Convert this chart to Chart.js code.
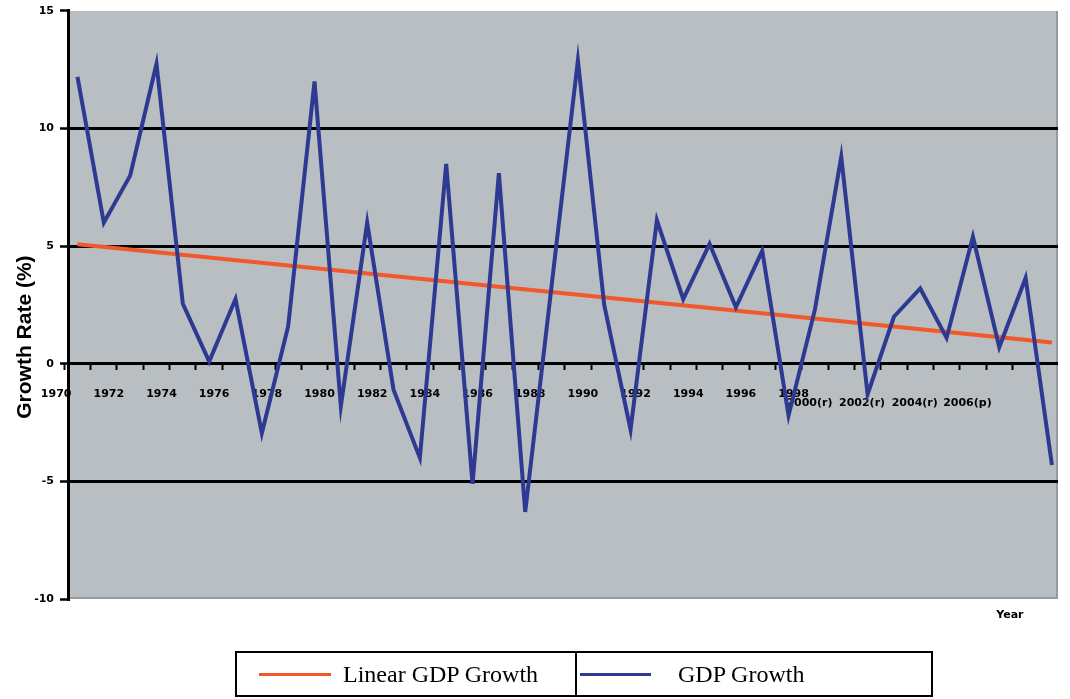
<!DOCTYPE html>
<html>
<head>
<meta charset="utf-8">
<script src="https://cdn.jsdelivr.net/npm/chart.js@4.4.1/dist/chart.umd.min.js"></script>
<style>
  html, body { margin: 0; padding: 0; background: #ffffff; overflow: hidden; }
  #wrap { position: relative; width: 1070px; height: 699px; }
  #legend { position: absolute; left: 235px; top: 651px; width: 698px; height: 46px;
            border: 2px solid #000; box-sizing: border-box; display: flex;
            font-family: 'Liberation Serif', 'Times New Roman', serif; font-size: 24px; color: #000; }
  .cell { display: flex; align-items: center; height: 100%; box-sizing: border-box; }
  .cell.left { width: 340px; border-right: 2px solid #000; }
  .cell.right { flex: 1; }
  .sw { height: 3px; }
</style>
</head>
<body>
<div id="wrap">
  <canvas id="c" width="1070" height="699"></canvas>
  <div id="legend"></div>
</div>
<script>
// ---- data ----
const years = [1971, 1972, 1973, 1974, 1975, 1976, 1977, 1978, 1979, 1980,
               1981, 1982, 1983, 1984, 1985, 1986, 1987, 1988, 1989, 1990,
               1991, 1992, 1993, 1994, 1995, 1996, 1997, 1998, 1999, 2000,
               2001, 2002, 2003, 2004, 2005, 2006, 2007, 2008];
const gdpGrowth = [12.2, 6.0, 8.0, 12.75, 2.55, 0.1, 2.75, -2.95, 1.6, 12.0,
                   -1.8, 6.0, -1.1, -4.0, 8.5, -5.1, 8.1, -6.3, 3.3, 12.9,
                   2.5, -2.8, 6.1, 2.75, 5.1, 2.4, 4.8, -2.2, 2.3, 8.8,
                   -1.3, 2.0, 3.2, 1.1, 5.4, 0.7, 3.65, -4.3];
const trendYears = [1971, 2008];
const trendValues = [5.08, 0.90];
const xTickLabels = ['1970', '1972', '1974', '1976', '1978', '1980', '1982', '1984',
                     '1986', '1988', '1990', '1992', '1994', '1996', '1998',
                     '2000(r)', '2002(r)', '2004(r)', '2006(p)'];
const seriesNames = ['Linear GDP Growth', 'GDP Growth'];
const yAxisTitle = 'Growth Rate (%)';
const xAxisTitle = 'Year';

const BLUE = '#2e3a92';
const ORANGE = '#f2582a';
const NBSP = '\u00a0';

const gdpPoints = years.map((yr, i) => ({ x: yr, y: gdpGrowth[i] }));
const trendPoints = trendYears.map((yr, i) => ({ x: yr, y: trendValues[i] }));

const bgPlugin = {
  id: 'plotBg',
  beforeDraw(chart) {
    const { ctx, chartArea: a } = chart;
    ctx.save();
    ctx.fillStyle = '#b8bec2';
    ctx.fillRect(a.left, a.top, a.right - a.left, a.bottom - a.top);
    ctx.strokeStyle = '#969b9f';
    ctx.lineWidth = 2;
    ctx.beginPath();
    ctx.moveTo(a.right - 1, a.top);
    ctx.lineTo(a.right - 1, a.bottom - 1);
    ctx.lineTo(a.left, a.bottom - 1);
    ctx.stroke();
    ctx.restore();
  }
};

const tickFont = { family: "'DejaVu Sans', sans-serif", size: 11, weight: 'bold', lineHeight: 0.9 };

new Chart(document.getElementById('c'), {
  type: 'line',
  data: {
    datasets: [
      { label: seriesNames[0], data: trendPoints, borderColor: ORANGE, backgroundColor: ORANGE,
        borderWidth: 4, pointRadius: 0, tension: 0, order: 2 },
      { label: seriesNames[1], data: gdpPoints, borderColor: BLUE, backgroundColor: BLUE,
        borderWidth: 4, pointRadius: 0, tension: 0, order: 1 }
    ]
  },
  options: {
    responsive: false,
    devicePixelRatio: 1,
    animation: false,
    layout: { padding: { left: 0, top: 10, right: 12, bottom: 70 } },
    plugins: { legend: { display: false }, tooltip: { enabled: false } },
    scales: {
      x: {
        type: 'linear',
        position: { y: 0 },
        min: 1970.64,
        max: 2008.23,
        afterBuildTicks: (scale) => {
          const t = [];
          for (let y = 1970; y < 2008; y++) t.push({ value: y + 0.5, mark: true });
          xTickLabels.forEach((l) => {
            const yr = parseInt(l, 10);
            const revised = l.indexOf('(') >= 0;
            t.push({ value: revised ? yr - 1.4 : yr, text: revised ? ['', l] : l });
          });
          t.sort((a, b) => a.value - b.value);
          scale.ticks = t;
        },
        ticks: {
          autoSkip: false, maxRotation: 0, minRotation: 0,
          padding: 19, labelOffset: 5, color: '#000', font: tickFont,
          callback: (v, i, ticks) => (ticks[i] && ticks[i].text) ? ticks[i].text : ''
        },
        grid: {
          drawOnChartArea: false, drawTicks: true, tickLength: 6,
          tickWidth: 2,
          tickColor: (ctx) => (ctx.tick && ctx.tick.mark) ? '#000' : 'rgba(0,0,0,0)',
          color: 'rgba(0,0,0,0)'
        },
        border: { display: false }
      },
      x2: {
        type: 'linear',
        position: 'bottom',
        ticks: { display: false },
        grid: { display: false },
        border: { display: false },
        title: { display: true, text: xAxisTitle + NBSP.repeat(9), align: 'end', color: '#000',
                 font: { family: "'DejaVu Sans', sans-serif", size: 11, weight: 'bold' },
                 padding: { top: 0, bottom: 7 } },
        afterFit: (s) => { s.height = 30; }
      },
      y: {
        type: 'linear',
        position: 'left',
        min: -10, max: 15,
        ticks: { stepSize: 5, padding: 6, color: '#000', font: tickFont },
        grid: {
          lineWidth: 3,
          color: (ctx) => (ctx.tick && (ctx.tick.value === 15 || ctx.tick.value === -10)) ? 'rgba(0,0,0,0)' : '#000',
          tickColor: '#000', tickLength: 8, tickWidth: 2.5
        },
        border: { display: true, color: '#000', width: 3 },
        title: { display: true, text: yAxisTitle + NBSP.repeat(11), color: '#000',
                 font: { family: "'Liberation Sans', sans-serif", size: 21, weight: 'bold' },
                 padding: { top: 13, bottom: 0 } },
        afterFit: (s) => { s.width = 68; }
      }
    }
  },
  plugins: [bgPlugin]
});

// HTML legend built from the series names
const legend = document.getElementById('legend');
const cells = [
  { cls: 'left', color: ORANGE, name: seriesNames[0], ml: 22, w: 72, gap: 12 },
  { cls: 'right', color: BLUE, name: seriesNames[1], ml: 3, w: 71, gap: 27 }
];
cells.forEach((c) => {
  const d = document.createElement('div');
  d.className = 'cell ' + c.cls;
  const sw = document.createElement('div');
  sw.className = 'sw';
  sw.style.background = c.color;
  sw.style.width = c.w + 'px';
  sw.style.marginLeft = c.ml + 'px';
  const tx = document.createElement('span');
  tx.textContent = c.name;
  tx.style.marginLeft = c.gap + 'px';
  d.appendChild(sw);
  d.appendChild(tx);
  legend.appendChild(d);
});
</script>
</body>
</html>
